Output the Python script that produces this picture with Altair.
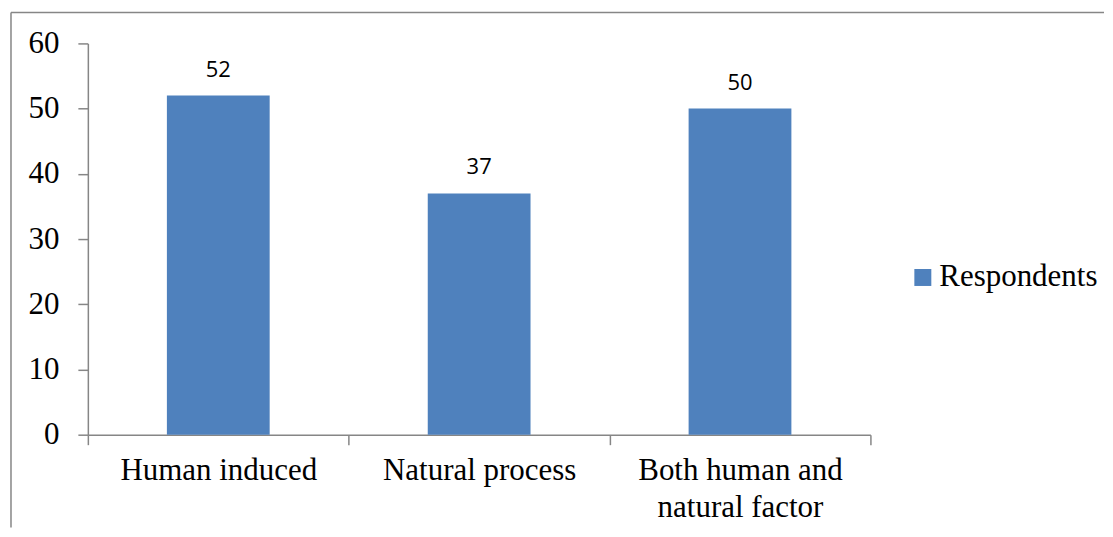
import altair as alt
import pandas as pd

categories = ["Human induced", "Natural process", "Both human and natural factor"]
values = [52, 37, 50]
series = ["Respondents"] * 3

df = pd.DataFrame({"category": categories, "value": values, "series": series})

W, H = 784, 392
SERIF = "Liberation Serif"
GRAY = "#868686"
BLUE = "#4F81BD"
FS = 31

base = alt.Chart(df).encode(
    x=alt.X(
        "category:N",
        sort=categories,
        scale=alt.Scale(paddingInner=0, paddingOuter=0),
        axis=alt.Axis(
            title=None,
            tickBand="extent",
            labelAngle=0,
            labelFont=SERIF,
            labelFontSize=FS,
            labelColor="black",
            labelPadding=11,
            labelLineHeight=37,
            labelExpr="datum.label == 'Both human and natural factor' ? ['Both human and', 'natural factor'] : datum.label",
            domainColor=GRAY,
            tickColor=GRAY,
            domainWidth=1.5,
            tickWidth=1.5,
            tickSize=10,
            labelLimit=400,
        ),
    ),
    y=alt.Y(
        "value:Q",
        scale=alt.Scale(domain=[0, 60], nice=False),
        axis=alt.Axis(
            title=None,
            values=[0, 10, 20, 30, 40, 50, 60],
            grid=False,
            labelFont=SERIF,
            labelFontSize=FS,
            labelColor="black",
            labelPadding=19,
            domainColor=GRAY,
            tickColor=GRAY,
            domainWidth=1.5,
            tickWidth=1.5,
            tickSize=10,
        ),
    ),
)

bars = base.mark_bar(width=alt.RelativeBandSize(0.394)).encode(
    color=alt.Color(
        "series:N",
        scale=alt.Scale(range=[BLUE]),
        legend=alt.Legend(
            title=None,
            orient="none",
            legendX=821,
            legendY=219,
            symbolType="square",
            symbolSize=289,
            symbolStrokeWidth=0,
            labelFont=SERIF,
            labelFontSize=FS,
            labelColor="black",
            labelOffset=1,
            labelLimit=400,
        ),
    )
)

labels = base.mark_text(
    font="Open Sans", fontSize=22, color="black", baseline="alphabetic", dy=-19
).encode(text="value:Q")

frame_df = pd.DataFrame({"a": [0]})
top_line = alt.Chart(frame_df).mark_rule(color=GRAY, strokeWidth=1.5).encode(
    x=alt.value(-77), x2=alt.value(1018), y=alt.value(-31)
)
left_line = alt.Chart(frame_df).mark_rule(color=GRAY, strokeWidth=1.5).encode(
    x=alt.value(-77), y=alt.value(-31), y2=alt.value(485)
)

chart = (
    alt.layer(bars, labels, top_line, left_line)
    .properties(width=W, height=H, padding={"left": 2, "top": 3, "right": 0, "bottom": 0})
    .configure_view(stroke=None)
)

chart.save("out.html", embed_options={"renderer": "svg", "actions": False})
